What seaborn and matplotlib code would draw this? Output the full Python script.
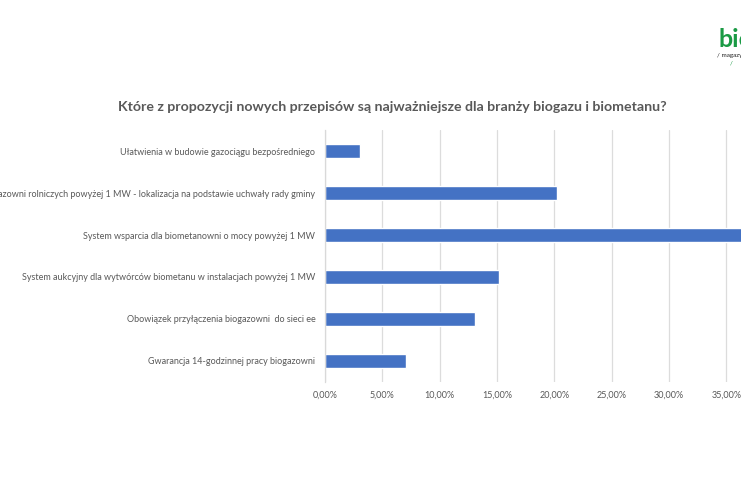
import seaborn as sns
import matplotlib.pyplot as plt
import pandas as pd
from matplotlib.ticker import FuncFormatter, FixedLocator

# ---------------------------------------------------
# Data
# ---------------------------------------------------
categories = [
    "Ułatwienia w budowie gazociągu bezpośredniego",
    "Budowa biogazowni rolniczych powyżej 1 MW - lokalizacja na podstawie uchwały rady gminy",
    "System wsparcia dla biometanowni o mocy powyżej 1 MW",
    "System aukcyjny dla wytwórców biometanu w instalacjach powyżej 1 MW",
    "Obowiązek przyłączenia biogazowni  do sieci ee",
    "Gwarancja 14-godzinnej pracy biogazowni",
]
shares = [0.0305, 0.202, 0.4145, 0.1515, 0.131, 0.0706]
# only the ticks that are visible in the cropped picture
x_ticks = [0.0, 0.05, 0.10, 0.15, 0.20, 0.25, 0.30, 0.35]

title = "Które z propozycji nowych przepisów są najważniejsze dla branży biogazu i biometanu?"

df = pd.DataFrame({"kategoria": categories, "udzial": shares})

sns.set_theme(style="white")
plt.rcParams["font.family"] = ["Lato", "DejaVu Sans"]

fig = plt.figure(figsize=(7.41, 4.86), dpi=100)
# axes run past the right edge, the source picture is a crop
ax = fig.add_axes([0.4386, 0.214, 0.6966, 0.5185])

sns.barplot(data=df, x="udzial", y="kategoria", orient="h", order=categories,
            color="#4472C4", saturation=1, width=0.34, ax=ax)

ax.set_xlim(0, 0.45)
ax.set_ylim(5.5, -0.5)
ax.xaxis.set_major_locator(FixedLocator(x_ticks))
ax.xaxis.set_major_formatter(FuncFormatter(lambda v, p: f"{v*100:.2f}%".replace(".", ",")))
ax.grid(axis="x", color="#dcdcdc", linewidth=0.9)
ax.set_axisbelow(True)
for s in ["top", "right", "bottom"]:
    ax.spines[s].set_visible(False)
ax.spines["left"].set_color("#d9d9d9")
ax.spines["left"].set_linewidth(0.9)

ax.set_xlabel("")
ax.set_ylabel("")
ax.tick_params(axis="x", length=0, pad=6, labelsize=6.5, labelcolor="#595959")
ax.tick_params(axis="y", length=0, pad=7, labelsize=6.45, labelcolor="#595959")

fig.text(0.529, 0.780, title, ha="center", va="center", fontsize=10.2,
         fontweight="bold", color="#595959")

# cropped magazine logo in the corner
fig.text(0.969, 0.918, "biomasa", ha="left", va="center", fontsize=18,
         fontweight="bold", color="#1a9a44")
fig.text(0.967, 0.885, "/ magazyn", ha="left", va="center", fontsize=4.5, color="#222222")
fig.text(0.985, 0.870, "/ ", ha="left", va="center", fontsize=4.5, color="#1a9a44")

fig.savefig("out.png", dpi=100)
plt.close(fig)
